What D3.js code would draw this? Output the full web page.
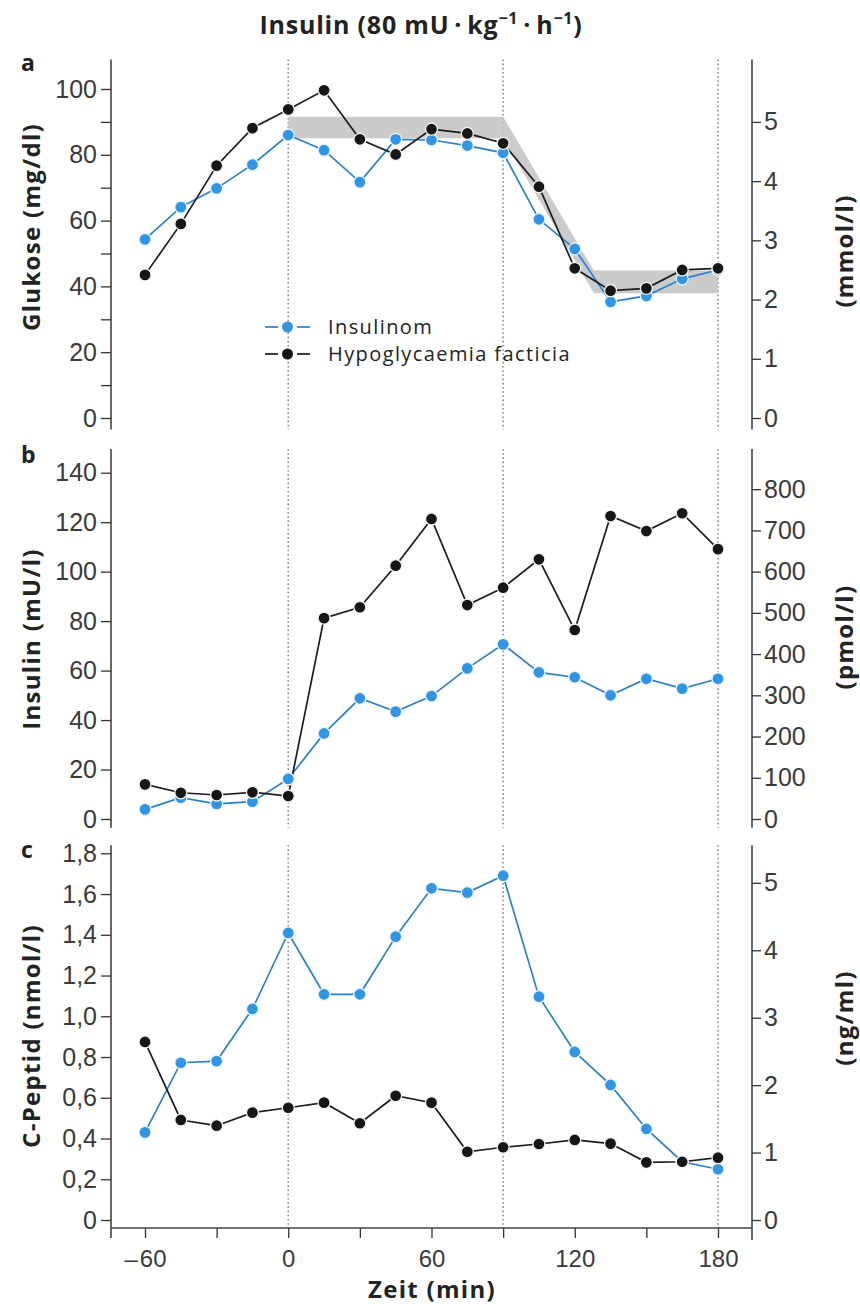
<!DOCTYPE html>
<html>
<head>
<meta charset="utf-8">
<script src="https://cdn.jsdelivr.net/npm/d3@7"></script>
<style>
  body { margin: 0; background: #fff; }
  svg { display: block; font-family: "Open Sans", sans-serif; }
  .axis text { font-size: 25px; fill: #3a3a3a; }
  .axis.x text { font-size: 24px; }
  .axis path { display: none; }
  .axis line { stroke: #333; stroke-width: 1.3px; }
  .ytitle { font-size: 24px; font-weight: bold; fill: #222; letter-spacing: 1.3px; }
</style>
</head>
<body>
<svg id="chart" width="860" height="1304"></svg>
<script>
// time points (min)
const minutes = [-60, -45, -30, -15, 0, 15, 30, 45, 60, 75, 90, 105, 120, 135, 150, 165, 180];

// a: Glukose (mg/dl)
const glucoseInsulinom = [54.3, 64.1, 69.8, 77, 86, 81.4, 71.7, 84.7, 84.5, 82.8, 80.6, 60.4, 51.4, 35.3, 37.1, 42.3, 45];
const glucoseFacticia  = [43.5, 59, 76.7, 88.1, 93.8, 99.6, 84.7, 80.1, 87.8, 86.5, 83.5, 70.3, 45.5, 38.7, 39.4, 45, 45.5];

// grey target band in panel a
const bandTime  = [0, 90, 128, 180];
const bandUpper = [91.6, 91.6, 44.8, 44.8];
const bandLower = [85, 85, 37.9, 37.9];

// b: Insulin (mU/l)
const insulinInsulinom = [3.9, 8.6, 6.1, 7.0, 16.2, 34.6, 48.8, 43.4, 49.7, 60.9, 70.6, 59.3, 57.3, 50.0, 56.7, 52.7, 56.7];
const insulinFacticia  = [14.0, 10.6, 9.7, 10.8, 9.3, 81.2, 85.6, 102.4, 121.3, 86.5, 93.5, 105, 76.4, 122.5, 116.4, 123.6, 109.1];

// c: C-Peptid (nmol/l)
const cpepInsulinom = [0.43, 0.772, 0.78, 1.036, 1.409, 1.108, 1.108, 1.391, 1.628, 1.607, 1.69, 1.096, 0.825, 0.663, 0.447, 0.286, 0.249];
const cpepFacticia  = [0.874, 0.491, 0.463, 0.527, 0.551, 0.576, 0.475, 0.61, 0.576, 0.335, 0.357, 0.373, 0.393, 0.375, 0.283, 0.286, 0.306];

// tick labels
const xTicks = [-60, -30, 0, 30, 60, 90, 120, 150, 180];
const xTickLabels = [-60, 0, 60, 120, 180];
const refLines = [0, 90, 180];
const glucoseTicks = [0, 20, 40, 60, 80, 100];
const glucoseMinor = [10, 30, 50, 70, 90];
const mmolTicks = [0, 1, 2, 3, 4, 5];
const insulinTicks = [0, 20, 40, 60, 80, 100, 120, 140];
const pmolTicks = [0, 100, 200, 300, 400, 500, 600, 700, 800];
const cpepTicks = [0, 0.2, 0.4, 0.6, 0.8, 1.0, 1.2, 1.4, 1.6, 1.8];
const ngTicks = [0, 1, 2, 3, 4, 5];

const seriesNames = ['Insulinom', 'Hypoglycaemia facticia'];
const blue = '#3195e3';
const black = '#161616';
const blueLine = '#2a80cc';
const blackLine = '#1c1c1c';

function drawChart(){
  const svg = d3.select('#chart');

  const leftX = 111;
  const rightX = 752;

  const x = d3.scaleLinear()
              .domain([-60, 180])
              .range([145, 718]);

  const comma = d => d === 0 ? '0' : d.toFixed(1).replace('.', ',');

  // three stacked panels
  const panels = [
    {
      letter: 'a', y: d3.scaleLinear().domain([0, 100]).range([418, 89]),
      top: 109, bottom: -3.5,
      ticks: glucoseTicks, minor: glucoseMinor, fmt: d3.format('d'),
      factor: 18, rTicks: mmolTicks, rFmt: d3.format('d'),
      title: 'Glukose (mg/dl)', rTitle: '(mmol/l)',
      series: [glucoseInsulinom, glucoseFacticia],
      titleY: 227, rTitleY: 251, letterY: 71
    },
    {
      letter: 'b', y: d3.scaleLinear().domain([0, 140]).range([819, 472.7]),
      top: 149.6, bottom: -3.5,
      ticks: insulinTicks, minor: [], fmt: d3.format('d'),
      factor: 1 / 6, rTicks: pmolTicks, rFmt: d3.format('d'),
      title: 'Insulin (mU/l)', rTitle: '(pmol/l)',
      series: [insulinInsulinom, insulinFacticia],
      titleY: 639, rTitleY: 637, letterY: 463
    },
    {
      letter: 'c', y: d3.scaleLinear().domain([0, 1.8]).range([1220, 853.3]),
      top: 1.84, bottom: -0.04,
      ticks: cpepTicks, minor: [], fmt: comma,
      factor: 0.331, rTicks: ngTicks, rFmt: d3.format('d'),
      title: 'C-Peptid (nmol/l)', rTitle: '(ng/ml)',
      series: [cpepInsulinom, cpepFacticia],
      titleY: 1036, rTitleY: 1018, letterY: 858
    }
  ];

  panels.forEach(function(p, i){
    const y = p.y;
    const yR = d3.scaleLinear()
                 .domain([0, y.domain()[1] / p.factor])
                 .range(y.range());
    const g = svg.append('g').attr('class', 'panel');
    const yTop = y(p.top);
    const yBot = i === 2 ? 1228 : y(p.bottom);

    // dotted reference lines
    g.selectAll('line.ref')
      .data(refLines)
      .enter()
      .append('line')
        .attr('class', 'ref')
        .attr('x1', d => x(d)).attr('x2', d => x(d))
        .attr('y1', yTop).attr('y2', yBot)
        .attr('stroke', '#8a8a8a')
        .attr('stroke-width', 1.6)
        .attr('stroke-dasharray', '1.6,2.6');

    // target band
    if (p.letter === 'a'){
      const area = d3.area()
          .x((d, j) => x(bandTime[j]))
          .y0((d, j) => y(bandLower[j]))
          .y1((d, j) => y(bandUpper[j]));
      g.append('path')
        .datum(bandTime)
        .attr('d', area)
        .attr('fill', '#c2c2c2')
        .attr('opacity', 0.85);
    }

    // left axis
    g.append('line')
      .attr('x1', leftX).attr('x2', leftX)
      .attr('y1', yTop).attr('y2', i === 2 ? 1238 : yBot)
      .attr('stroke', '#444').attr('stroke-width', 1.6);

    g.append('g')
      .attr('class', 'axis')
      .attr('transform', `translate(${leftX},0)`)
      .call(d3.axisLeft(y).tickValues(p.ticks).tickFormat(p.fmt).tickSize(10).tickPadding(4));

    if (p.minor.length){
      g.append('g')
        .attr('class', 'axis')
        .attr('transform', `translate(${leftX},0)`)
        .call(d3.axisLeft(y).tickValues(p.minor).tickFormat('').tickSize(10));
    }

    // right axis
    g.append('line')
      .attr('x1', rightX).attr('x2', rightX)
      .attr('y1', yTop).attr('y2', i === 2 ? 1240 : yBot)
      .attr('stroke', '#444').attr('stroke-width', 1.6);

    g.append('g')
      .attr('class', 'axis')
      .attr('transform', `translate(${rightX},0)`)
      .call(d3.axisRight(yR).tickValues(p.rTicks).tickFormat(p.rFmt).tickSize(9).tickPadding(3));

    // series lines + points
    const line = d3.line()
        .x((d, j) => x(minutes[j]))
        .y(d => y(d));

    const colors = [blue, black];
    p.series.forEach(function(vals, k){
      g.append('path')
        .datum(vals)
        .attr('d', line)
        .attr('fill', 'none')
        .attr('stroke', k === 0 ? blueLine : blackLine)
        .attr('stroke-width', 1.7);
    });
    p.series.forEach(function(vals, k){
      g.selectAll('circle.s' + k)
        .data(vals)
        .enter()
        .append('circle')
          .attr('class', 's' + k)
          .attr('cx', (d, j) => x(minutes[j]))
          .attr('cy', d => y(d))
          .attr('r', 6)
          .attr('fill', colors[k])
          .attr('stroke', k === 0 ? '#e8f4ff' : '#f4f4f0')
          .attr('stroke-width', 1.3);
    });

    // panel letter
    svg.append('text')
      .text(p.letter)
      .attr('x', 21).attr('y', p.letterY)
      .style('font-size', '23px')
      .style('font-weight', 'bold')
      .style('fill', '#222');

    // axis titles
    svg.append('text')
      .attr('class', 'ytitle')
      .text(p.title)
      .attr('transform', `translate(40,${p.titleY}) rotate(-90)`)
      .style('text-anchor', 'middle');

    svg.append('text')
      .attr('class', 'ytitle')
      .text(p.rTitle)
      .attr('transform', `translate(853,${p.rTitleY}) rotate(-90)`)
      .style('text-anchor', 'middle');
  });

  // bottom x axis
  svg.append('g')
      .attr('class', 'axis x')
      .attr('transform', 'translate(0,1228)')
      .call(d3.axisBottom(x).tickValues(xTicks)
              .tickFormat(d => xTickLabels.includes(d) ? (d < 0 ? '\u2013\u200a' + (-d) : String(d)) : '')
              .tickSize(10).tickPadding(12));

  svg.append('line')
    .attr('x1', leftX).attr('x2', rightX)
    .attr('y1', 1228).attr('y2', 1228)
    .attr('stroke', '#444').attr('stroke-width', 1.6);

  svg.append('text')
    .text('Zeit (min)')
    .attr('x', 432).attr('y', 1298)
    .style('text-anchor', 'middle')
    .style('font-size', '24px')
    .style('font-weight', 'bold')
    .style('letter-spacing', '1.3px')
    .style('fill', '#222');

  // title
  const title = svg.append('text')
    .attr('x', 421).attr('y', 34)
    .style('text-anchor', 'middle')
    .style('font-size', '25px')
    .style('font-weight', 'bold')
    .style('letter-spacing', '0.8px')
    .style('fill', '#222');
  title.append('tspan').text('Insulin (80 mU\u2009\u00b7\u2009kg');
  title.append('tspan').text('\u22121').attr('dy', -10).style('font-size', '16px');
  title.append('tspan').text('\u2009\u00b7\u2009h').attr('dy', 10);
  title.append('tspan').text('\u22121').attr('dy', -10).style('font-size', '16px');
  title.append('tspan').text(')').attr('dy', 10);

  // legend
  const legend = svg.append('g').attr('class', 'legend');
  const legY = [327, 354];
  seriesNames.forEach(function(name, k){
    const ly = legY[k];
    const c = k === 0 ? blueLine : blackLine;
    legend.append('line')
      .attr('x1', 265).attr('x2', 278).attr('y1', ly).attr('y2', ly)
      .attr('stroke', c).attr('stroke-width', 1.7);
    legend.append('line')
      .attr('x1', 297).attr('x2', 310).attr('y1', ly).attr('y2', ly)
      .attr('stroke', c).attr('stroke-width', 1.7);
    legend.append('circle')
      .attr('cx', 287.5).attr('cy', ly).attr('r', 5.5)
      .attr('fill', k === 0 ? blue : black);
    legend.append('text')
      .text(name)
      .attr('x', 328).attr('y', ly + 7)
      .style('font-size', '20px')
      .style('letter-spacing', '1.4px')
      .style('fill', '#222');
  });
}

drawChart();
</script>
</body>
</html>
